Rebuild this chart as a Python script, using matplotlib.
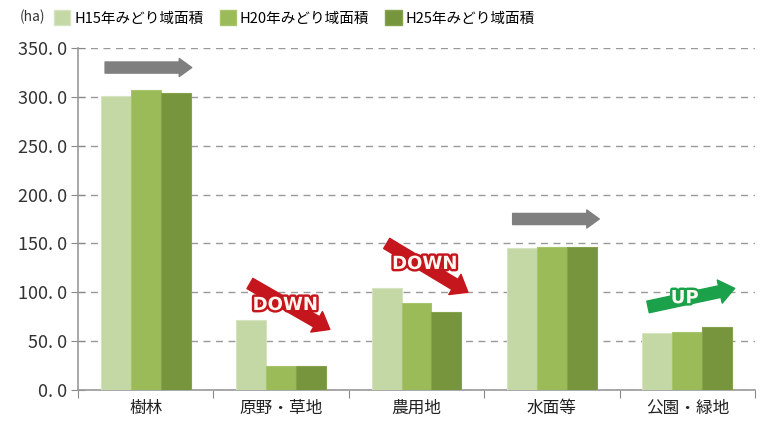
import numpy as np
import matplotlib
matplotlib.use("Agg")
import matplotlib.pyplot as plt
from matplotlib.patches import Patch
import matplotlib.patheffects as pe

plt.rcParams['font.family'] = ['Noto Sans CJK JP', 'DejaVu Sans']

categories = ['樹林', '原野・草地', '農用地', '水面等', '公園・緑地']
series_names = ['H15年みどり域面積', 'H20年みどり域面積', 'H25年みどり域面積']
h15 = [301.0, 71.5, 104.0, 145.0, 58.0]
h20 = [307.0, 25.0, 89.0, 146.5, 59.0]
h25 = [304.0, 25.0, 80.0, 146.5, 64.5]
yticks = [0, 50, 100, 150, 200, 250, 300, 350]

colors = ['#c4d8a5', '#9bbb59', '#77953d']
edge = ['#d6e4c2', '#a9c56c', '#86a24c']

fig = plt.figure(figsize=(7.66, 4.21), dpi=100)
ax = fig.add_axes([78 / 766, 31 / 421, 677 / 766, 342 / 421])

x = np.arange(len(categories))
w = 0.221
for i, vals in enumerate([h15, h20, h25]):
    ax.bar(x + (i - 1) * w, vals, width=w, color=colors[i],
           edgecolor=edge[i], linewidth=0.8, zorder=3, label=series_names[i])

ax.set_xlim(-0.5, len(categories) - 0.5)
ax.set_ylim(0, 350)
ax.set_yticks(yticks)
ax.set_yticklabels([f'{v}. 0' for v in yticks], fontsize=13, color='#333333')
ax.yaxis.grid(True, linestyle=(0, (5, 4)), color='#999999', linewidth=1.0, zorder=0)

# category boundaries as ticks, names as minor tick labels
ax.set_xticks(np.arange(-0.5, len(categories)))
ax.set_xticklabels([])
ax.set_xticks(x, minor=True)
ax.set_xticklabels(categories, minor=True, fontsize=12, color='#222222')
ax.tick_params(axis='x', which='major', direction='out', length=6, color='#888888')
ax.tick_params(axis='x', which='minor', length=0, pad=7)
ax.tick_params(axis='y', direction='inout', length=10, color='#888888', pad=3)

for s in ['top', 'right']:
    ax.spines[s].set_visible(False)
for s in ['left', 'bottom']:
    ax.spines[s].set_color('#999999')
    ax.spines[s].set_linewidth(1.2)

# trend arrows
def arrow(p0, p1, color, tw, hw, hl):
    ax.annotate('', xy=p1, xytext=p0, zorder=5,
                arrowprops=dict(arrowstyle=f'simple,tail_width={tw},head_width={hw},head_length={hl}',
                                color=color, mutation_scale=10, shrinkA=0, shrinkB=0))

gray = '#7f7f7f'
red = '#c4161c'
green = '#1aa14a'
arrow((-0.30, 330), (0.34, 330), gray, 0.8, 1.3, 0.9)
arrow((2.71, 175), (3.35, 175), gray, 0.8, 1.3, 0.9)
arrow((0.77, 109), (1.36, 62), red, 0.85, 1.7, 1.1)
arrow((1.78, 150), (2.38, 100), red, 0.85, 1.7, 1.1)
arrow((3.71, 85), (4.35, 104), green, 0.85, 1.7, 1.1)

def trend_text(xy, s, color):
    ax.text(xy[0], xy[1], s, ha='center', va='center', fontsize=13, fontweight='bold',
            color='#fff8f0', zorder=6, family='DejaVu Sans',
            path_effects=[pe.withStroke(linewidth=3.5, foreground=color)])

trend_text((1.03, 87), 'DOWN', red)
trend_text((2.06, 129), 'DOWN', red)
trend_text((3.98, 94), 'UP', green)

handles = [Patch(facecolor=colors[i], edgecolor=edge[i]) for i in range(3)]
fig.legend(handles, series_names, loc='center left', bbox_to_anchor=(48 / 766, 1 - 18 / 421),
           ncol=3, frameon=False, fontsize=10.5, handlelength=1.1, handleheight=1.2,
           handletextpad=0.3, columnspacing=1.1, borderaxespad=0)
fig.text(20 / 766, 1 - 17 / 421, '(ha)', fontsize=10, va='center', color='#333333')

fig.savefig('out.png', dpi=100)
